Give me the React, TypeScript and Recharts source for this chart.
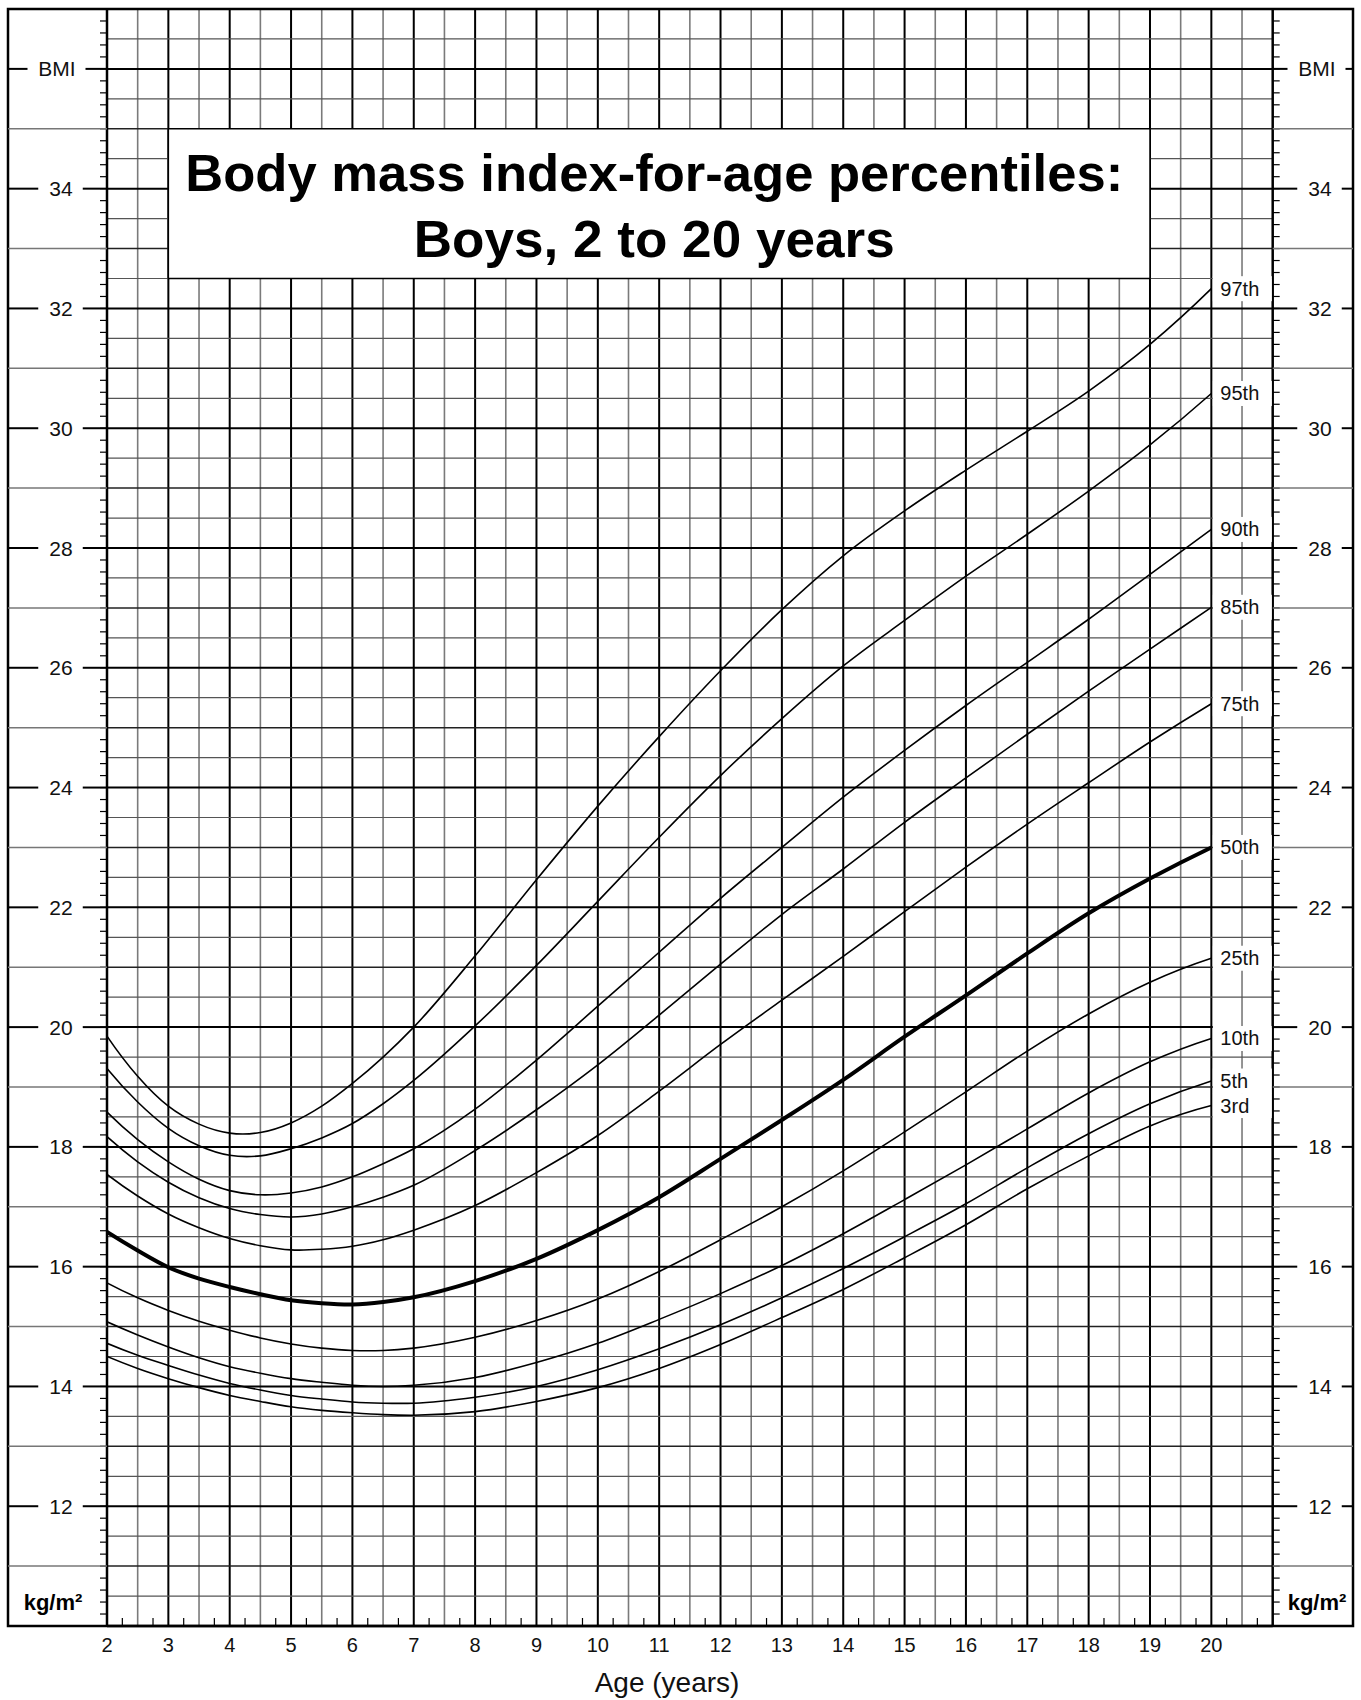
import React from 'react';
import {
  LineChart,
  Line,
  XAxis,
  YAxis,
  ReferenceLine,
  ReferenceArea,
  LabelList,
  Customized,
} from 'recharts';

// ages (years) where the curves were read
const AGES = [2, 2.5, 3, 3.5, 4, 4.5, 5, 5.5, 6, 6.5, 7, 8, 9, 10, 11, 12, 13, 14, 15, 16, 17, 18, 19, 20];

// BMI percentiles, boys
const P97 = [19.85, 19.18, 18.68, 18.38, 18.23, 18.24, 18.4, 18.68, 19.06, 19.5, 20.0, 21.19, 22.46, 23.69, 24.85, 25.95, 26.97, 27.87, 28.62, 29.3, 29.95, 30.62, 31.4, 32.33];
const P95 = [19.31, 18.75, 18.31, 18.02, 17.86, 17.85, 17.97, 18.15, 18.39, 18.72, 19.11, 20.02, 21.03, 22.1, 23.17, 24.2, 25.15, 26.03, 26.79, 27.53, 28.23, 28.95, 29.72, 30.58];
const P90 = [18.58, 18.12, 17.75, 17.46, 17.27, 17.2, 17.23, 17.33, 17.5, 17.72, 17.97, 18.63, 19.45, 20.35, 21.25, 22.15, 23.0, 23.84, 24.62, 25.37, 26.09, 26.81, 27.56, 28.31];
const P85 = [18.17, 17.75, 17.41, 17.15, 16.97, 16.87, 16.83, 16.88, 17.0, 17.16, 17.36, 17.94, 18.62, 19.37, 20.2, 21.05, 21.88, 22.64, 23.42, 24.16, 24.89, 25.61, 26.31, 27.01];
const P75 = [17.54, 17.18, 16.88, 16.65, 16.47, 16.35, 16.28, 16.29, 16.34, 16.45, 16.61, 17.02, 17.57, 18.19, 18.93, 19.71, 20.45, 21.18, 21.93, 22.67, 23.39, 24.08, 24.76, 25.4];
const P50 = [16.58, 16.27, 15.99, 15.8, 15.66, 15.54, 15.44, 15.39, 15.37, 15.41, 15.49, 15.76, 16.13, 16.61, 17.16, 17.8, 18.45, 19.12, 19.84, 20.53, 21.23, 21.9, 22.48, 23.0];
const P25 = [15.73, 15.48, 15.27, 15.09, 14.94, 14.81, 14.71, 14.64, 14.6, 14.6, 14.64, 14.82, 15.1, 15.46, 15.92, 16.45, 17.0, 17.6, 18.25, 18.92, 19.6, 20.22, 20.75, 21.15];
const P10 = [15.08, 14.86, 14.66, 14.48, 14.33, 14.22, 14.13, 14.07, 14.02, 14.0, 14.02, 14.15, 14.4, 14.72, 15.12, 15.55, 16.02, 16.55, 17.12, 17.7, 18.3, 18.9, 19.42, 19.81];
const P5 = [14.72, 14.52, 14.35, 14.19, 14.05, 13.94, 13.85, 13.79, 13.74, 13.72, 13.72, 13.82, 14.0, 14.28, 14.63, 15.03, 15.48, 15.97, 16.5, 17.05, 17.65, 18.22, 18.72, 19.1];
const P3 = [14.5, 14.3, 14.13, 13.98, 13.85, 13.75, 13.66, 13.6, 13.56, 13.53, 13.52, 13.58, 13.75, 13.98, 14.3, 14.7, 15.15, 15.62, 16.15, 16.7, 17.3, 17.85, 18.35, 18.69];

const PERCENTILES = [
  { key: 'p97', label: '97th', values: P97 },
  { key: 'p95', label: '95th', values: P95 },
  { key: 'p90', label: '90th', values: P90 },
  { key: 'p85', label: '85th', values: P85 },
  { key: 'p75', label: '75th', values: P75 },
  { key: 'p50', label: '50th', values: P50 },
  { key: 'p25', label: '25th', values: P25 },
  { key: 'p10', label: '10th', values: P10 },
  { key: 'p5', label: '5th', values: P5 },
  { key: 'p3', label: '3rd', values: P3 },
];

const AGE_LABELS = [2, 3, 4, 5, 6, 7, 8, 9, 10, 11, 12, 13, 14, 15, 16, 17, 18, 19, 20];
const BMI_LABELS = [12, 14, 16, 18, 20, 22, 24, 26, 28, 30, 32, 34];
const BMI_WORD_AT = 36;

const TITLE_1 = 'Body mass index-for-age percentiles:';
const TITLE_2 = 'Boys, 2 to 20 years';

const data = AGES.map((age, i) => {
  const row: any = { age };
  PERCENTILES.forEach((p) => {
    row[p.key] = p.values[i];
  });
  return row;
});

const FONT = '"Liberation Sans", Arial, Helvetica, sans-serif';
const LEFT_PANEL = 99;
const RIGHT_PANEL = 80.3;

const range = (from: number, to: number, step: number) => {
  const out: number[] = [];
  for (let v = from; v <= to + 1e-9; v += step) out.push(Math.round(v * 100) / 100);
  return out;
};
const isWhole = (v: number) => Math.abs(v - Math.round(v)) < 1e-6;

const X_TICKS = range(2, 21, 0.25);
const Y_TICKS = range(10, 37, 0.2);
const V_GRID = range(2.5, 20.5, 0.5);
const H_GRID = range(10.5, 36.5, 0.5);

// smooth cubic hermite through the points, slopes from neighbours (keeps real minima)
const smoothCurve = (context: any) => {
  let xs: number[] = [];
  let ys: number[] = [];
  return {
    areaStart() {},
    areaEnd() {},
    lineStart() {
      xs = [];
      ys = [];
    },
    point(x: number, y: number) {
      xs.push(+x);
      ys.push(+y);
    },
    lineEnd() {
      const n = xs.length;
      if (!n) return;
      context.moveTo(xs[0], ys[0]);
      if (n === 1) return;
      if (n === 2) {
        context.lineTo(xs[1], ys[1]);
        return;
      }
      const d: number[] = [];
      const h: number[] = [];
      for (let i = 0; i < n - 1; i++) {
        h.push(xs[i + 1] - xs[i]);
        d.push((ys[i + 1] - ys[i]) / h[i]);
      }
      const m: number[] = new Array(n);
      for (let i = 1; i < n - 1; i++) {
        m[i] = (d[i - 1] * h[i] + d[i] * h[i - 1]) / (h[i - 1] + h[i]);
      }
      m[0] = ((2 * h[0] + h[1]) * d[0] - h[0] * d[1]) / (h[0] + h[1]);
      const k = n - 2;
      m[n - 1] = ((2 * h[k] + h[k - 1]) * d[k] - h[k] * d[k - 1]) / (h[k] + h[k - 1]);
      for (let i = 0; i < n - 1; i++) {
        const s = h[i] / 3;
        context.bezierCurveTo(xs[i] + s, ys[i] + m[i] * s, xs[i + 1] - s, ys[i + 1] - m[i + 1] * s, xs[i + 1], ys[i + 1]);
      }
    },
  };
};

const SideTick = (props: any) => {
  const { x, y, payload, side } = props;
  const v = Math.round(payload.value * 10) / 10;
  const dir = side === 'left' ? -1 : 1;
  const outer = x + dir * (side === 'left' ? LEFT_PANEL : RIGHT_PANEL);
  const lo = Math.min(x, outer);
  const hi = Math.max(x, outer);
  const parts: any[] = [
    <line key="m" x1={x} x2={x + dir * 7} y1={y} y2={y} stroke="#000" strokeWidth={1.2} />,
  ];
  if (isWhole(v) && v > 10 && v < 37) {
    const text = v === BMI_WORD_AT ? 'BMI' : BMI_LABELS.includes(v) ? String(v) : null;
    if (text) {
      const w = text === 'BMI' ? 37 : 23.5;
      const cx = side === 'left' ? lo + (text === 'BMI' ? 49 : 53) : hi - (text === 'BMI' ? 36 : 33);
      parts.push(
        <line key="a" x1={lo} x2={cx - w / 2 - 11} y1={y} y2={y} stroke="#000" strokeWidth={2} />,
        <line key="b" x1={cx + w / 2 + 10} x2={hi} y1={y} y2={y} stroke="#000" strokeWidth={2} />,
        <text key="t" x={cx} y={y + 7.5} textAnchor="middle" fontSize={21} fontFamily={FONT} fill="#111">
          {text}
        </text>
      );
    } else {
      parts.push(<line key="o" x1={lo} x2={hi} y1={y} y2={y} stroke="#777" strokeWidth={1.5} />);
    }
  }
  return <g>{parts}</g>;
};

const AgeTick = (props: any) => {
  const { x, y, payload } = props;
  const v = payload.value;
  if (!isWhole(v * 2)) {
    return <line x1={x} x2={x} y1={y} y2={y - 8} stroke="#000" strokeWidth={1.2} />;
  }
  if (AGE_LABELS.includes(v)) {
    return (
      <text x={x} y={y + 26} textAnchor="middle" fontSize={20} fontFamily={FONT} fill="#111">
        {v}
      </text>
    );
  }
  return null;
};

const AgeLabel = (props: any) => {
  const vb = props.viewBox || { x: 107, y: 1626 };
  return (
    <text x={vb.x + 560} y={vb.y + 66} textAnchor="middle" fontSize={28} fontFamily={FONT} fill="#111">
      Age (years)
    </text>
  );
};

const UnitLabel = (props: any) => {
  const vb = props.viewBox || { x: 0, y: 0, width: 0, height: 0 };
  const cx = props.side === 'left' ? vb.x + 45 : vb.x + 44.3;
  return (
    <text x={cx} y={vb.y + vb.height - 16} textAnchor="middle" fontSize={22} fontWeight="bold" fontFamily={FONT} fill="#000">
      kg/m²
    </text>
  );
};

const TitleLabel = (props: any) => {
  const vb = props.viewBox || { x: 0, y: 0, width: 0, height: 0 };
  const cx = vb.x + vb.width / 2 - 5;
  return (
    <g fontFamily={FONT} fontWeight="bold" fontSize={52} fill="#000">
      <text x={cx} y={vb.y + 62} textAnchor="middle" textLength={938} lengthAdjust="spacingAndGlyphs">
        {TITLE_1}
      </text>
      <text x={cx} y={vb.y + 128} textAnchor="middle" textLength={481} lengthAdjust="spacingAndGlyphs">
        {TITLE_2}
      </text>
    </g>
  );
};

const PctLabel = (props: any) => {
  const { index, text } = props;
  if (index !== AGES.length - 1) return null;
  const x = props.x ?? props.viewBox?.x;
  const y = props.y ?? props.viewBox?.y;
  return (
    <g>
      <rect x={x + 1.5} y={y - 12.5} width={59} height={25} fill="#fff" />
      <text x={x + 9} y={y + 7} fontSize={20} fontFamily={FONT} fill="#111">
        {text}
      </text>
    </g>
  );
};

const Frame = () => (
  <rect x={8} y={9} width={1345} height={1617} fill="none" stroke="#000" strokeWidth={2.5} />
);

export default function App() {
  return (
    <div style={{ width: 1361, height: 1700, background: '#fff' }}>
      <style>{'html,body{margin:0;padding:0;overflow:hidden;background:#fff}'}</style>
      <LineChart width={1361} height={1700} data={data} margin={{ top: 9, right: 8, bottom: 0, left: 8 }}>
        <XAxis
          dataKey="age"
          type="number"
          domain={[2, 21]}
          ticks={X_TICKS}
          interval={0}
          height={74}
          tickSize={0}
          tickMargin={0}
          tickLine={false}
          axisLine={{ stroke: '#000', strokeWidth: 2.5 }}
          tick={<AgeTick />}
          label={<AgeLabel />}
          allowDataOverflow
        />
        <YAxis
          yAxisId="left"
          orientation="left"
          type="number"
          domain={[10, 37]}
          ticks={Y_TICKS}
          interval={0}
          width={LEFT_PANEL}
          tickSize={0}
          tickMargin={0}
          tickLine={false}
          axisLine={{ stroke: '#000', strokeWidth: 2.5 }}
          tick={<SideTick side="left" />}
          label={<UnitLabel side="left" />}
          allowDataOverflow
        />
        <YAxis
          yAxisId="right"
          orientation="right"
          type="number"
          domain={[10, 37]}
          ticks={Y_TICKS}
          interval={0}
          width={RIGHT_PANEL}
          tickSize={0}
          tickMargin={0}
          tickLine={false}
          axisLine={{ stroke: '#000', strokeWidth: 2.5 }}
          tick={<SideTick side="right" />}
          label={<UnitLabel side="right" />}
          allowDataOverflow
        />

        {V_GRID.map((a) => (
          <ReferenceLine
            key={`v${a}`}
            x={a}
            yAxisId="left"
            zIndex={-50}
            stroke={isWhole(a) ? '#000' : '#7a7a7a'}
            strokeWidth={isWhole(a) ? 2 : 1.6}
          />
        ))}
        {H_GRID.map((b) => {
          const even = isWhole(b) && Math.round(b) % 2 === 0;
          const odd = isWhole(b) && !even;
          return (
            <ReferenceLine
              key={`h${b}`}
              y={b}
              yAxisId="left"
              zIndex={-50}
              stroke={even ? '#000' : odd ? '#222' : '#555'}
              strokeWidth={even ? 2 : odd ? 1.5 : 1.2}
            />
          );
        })}

        <ReferenceArea
          x1={3}
          x2={19}
          y1={32.5}
          y2={35}
          yAxisId="left"
          zIndex={350}
          fill="#fff"
          fillOpacity={1}
          stroke="#000"
          strokeWidth={1.5}
          label={<TitleLabel />}
        />

        {PERCENTILES.map((p) => (
          <Line
            key={p.key}
            yAxisId="left"
            dataKey={p.key}
            type={smoothCurve as any}
            stroke="#000"
            strokeWidth={p.key === 'p50' ? 4 : 1.6}
            dot={false}
            activeDot={false}
            isAnimationActive={false}
          >
            <LabelList dataKey={p.key} content={<PctLabel text={p.label} />} />
          </Line>
        ))}

        <Customized component={<Frame />} />
      </LineChart>
    </div>
  );
}
